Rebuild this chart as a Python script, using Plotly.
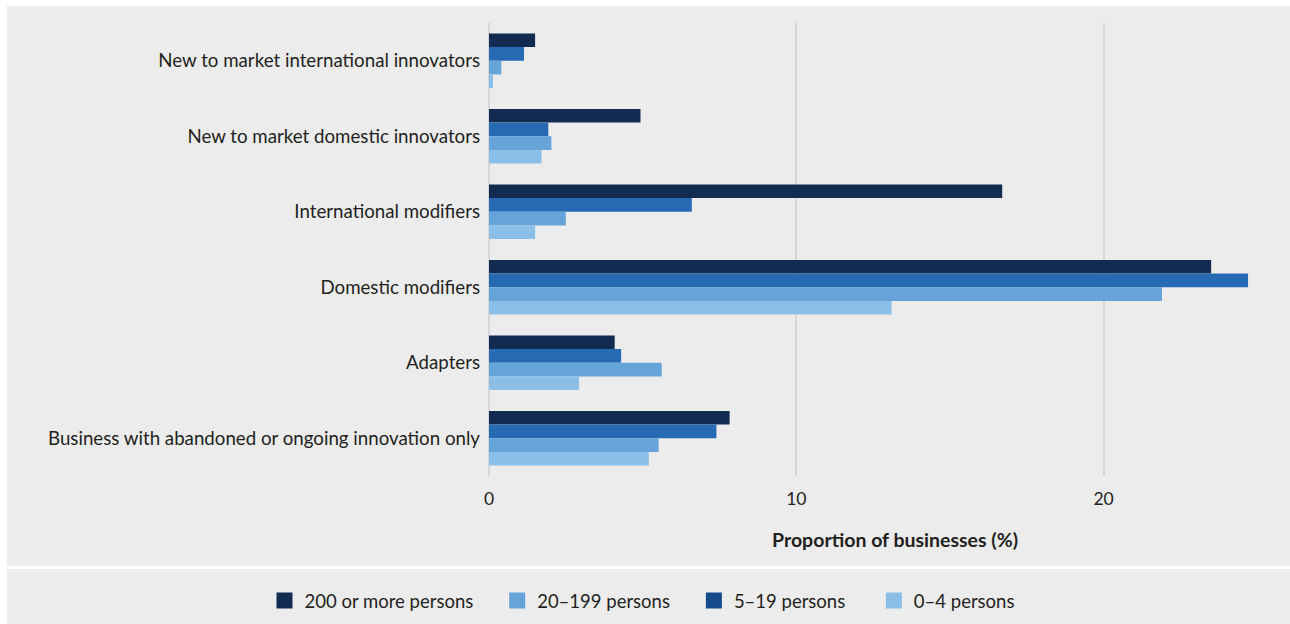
import plotly.graph_objects as go

# Business innovation categories (top to bottom)
categories = [
    "New to market international innovators",
    "New to market domestic innovators",
    "International modifiers",
    "Domestic modifiers",
    "Adapters",
    "Business with abandoned or ongoing innovation only",
]

# Proportion of businesses (%) by employment size
persons_200_plus = [1.5, 4.93, 16.7, 23.5, 4.09, 7.83]
persons_5_19 = [1.14, 1.93, 6.6, 24.7, 4.3, 7.4]
persons_20_199 = [0.4, 2.03, 2.5, 21.9, 5.62, 5.52]
persons_0_4 = [0.13, 1.71, 1.5, 13.1, 2.93, 5.2]

x_ticks = [0, 10, 20]

# Figure geometry (pixels)
W, H = 1290, 624
PL, PR, PT, PB = 489, 1288, 23, 476
X_MAX = 26


def px_x(px):
    return (px - PL) / (PR - PL)


def px_y(py):
    return (PB - py) / (PB - PT)


FONT = "Lato"
TEXT = "#231f20"
PAD = "\u00a0" * 4  # extra spacing after a legend entry

# (label, values, bar colour, legend key colour, legend position, trailing pad)
series = [
    ("200 or more persons", persons_200_plus, "#122b50", "#122b50", 1, PAD),
    ("5\u201319 persons", persons_5_19, "#276ab4", "#154a8b", 3, PAD + "\u00a0"),
    ("20\u2013199 persons", persons_20_199, "#66a3d9", "#66a3d9", 2, PAD),
    ("0\u20134 persons", persons_0_4, "#8cbfe8", "#8cbfe8", 4, ""),
]

fig = go.Figure()
for name, vals, color, key, rank, pad in series:
    fig.add_trace(go.Bar(
        y=categories, x=vals, name=name, orientation="h",
        marker=dict(color=color, line=dict(width=0)),
        showlegend=False, legendgroup=name,
    ))
for name, vals, color, key, rank, pad in series:
    # square legend keys
    fig.add_trace(go.Scatter(
        x=[None], y=[None], mode="markers", name=name + pad,
        marker=dict(symbol="square", size=16, color=key),
        legendrank=rank, legendgroup=name, hoverinfo="skip",
    ))

gray = "#ececec"
shapes = [
    dict(type="rect", xref="paper", yref="paper", layer="below",
         x0=px_x(7), x1=px_x(1290), y0=px_y(6), y1=px_y(566),
         fillcolor=gray, line=dict(width=0)),
    dict(type="rect", xref="paper", yref="paper", layer="below",
         x0=px_x(7), x1=px_x(1290), y0=px_y(569), y1=px_y(624),
         fillcolor=gray, line=dict(width=0)),
]

fig.update_layout(
    width=W, height=H,
    margin=dict(l=PL, r=W - PR, t=PT, b=H - PB),
    paper_bgcolor="white",
    plot_bgcolor="rgba(0,0,0,0)",
    barmode="group",
    bargap=0.275,
    bargroupgap=0,
    font=dict(family=FONT, size=18.7, color=TEXT),
    shapes=shapes,
    showlegend=True,
    legend=dict(
        orientation="h", x=px_x(642), xanchor="center",
        y=px_y(601), yanchor="middle",
        font=dict(family=FONT, size=18.5, color=TEXT),
        bgcolor="rgba(0,0,0,0)",
        itemsizing="trace",
    ),
    annotations=[dict(
        text="<b>Proportion of businesses (%)</b>",
        xref="paper", yref="paper", x=px_x(895), y=px_y(539),
        xanchor="center", yanchor="middle", showarrow=False,
        font=dict(family=FONT, size=19.5, color=TEXT),
    )],
)

fig.update_xaxes(
    range=[0, X_MAX], tickvals=x_ticks, ticktext=[str(v) for v in x_ticks],
    showgrid=True, gridcolor="#d6d6d6", gridwidth=2,
    zeroline=True, zerolinecolor="#d6d6d6", zerolinewidth=2,
    showline=False, ticks="", ticklabelstandoff=10,
    tickfont=dict(family=FONT, size=17.5, color=TEXT),
)
fig.update_yaxes(
    autorange="reversed", showgrid=False, showline=False, ticks="",
    ticklabelstandoff=8,
    tickfont=dict(family=FONT, size=18.7, color=TEXT),
)

fig.write_html("out.html")
